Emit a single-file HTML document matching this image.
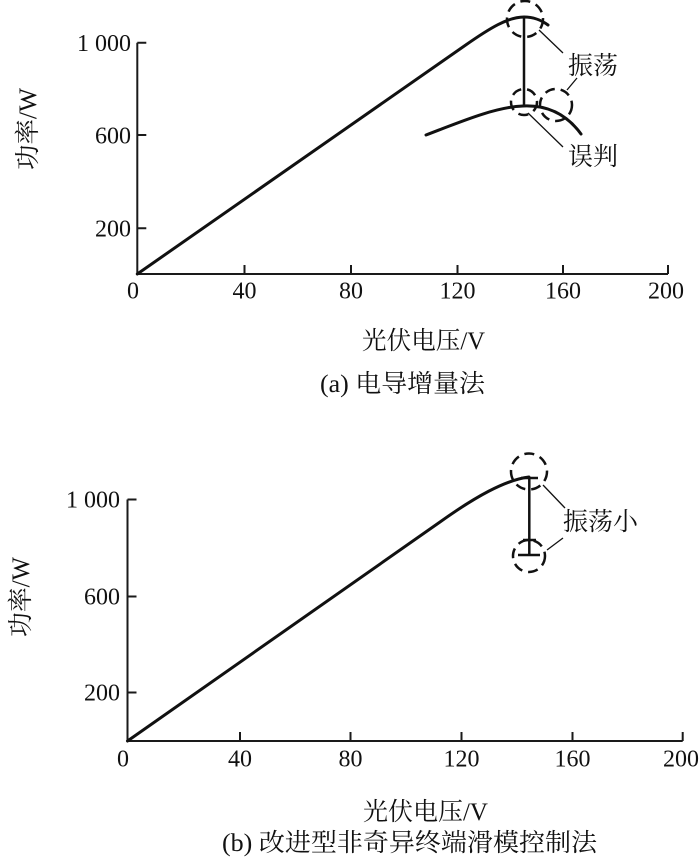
<!DOCTYPE html>
<html>
<head>
<meta charset="utf-8">
<style>
  html, body { margin: 0; padding: 0; background: #fff; }
  svg { display: block; }
  .num { font-family: "Liberation Serif", serif; font-size: 24px; fill: #111; }
  .cjk { font-family: "Liberation Serif", "Noto Serif CJK SC", serif; font-size: 25px; fill: #111; }
</style>
</head>
<body>
<svg width="700" height="862" viewBox="0 0 700 862" xmlns="http://www.w3.org/2000/svg">
  <rect width="700" height="862" fill="#fff"/>

  <!-- ============ TOP CHART (a) ============ -->
  <g stroke="#1a1a1a" fill="none" stroke-width="2">
    <path d="M137.3,42.7 L137.3,274 L668,274"/>
    <path d="M137.3,42.7 h9 M137.3,135 h9 M137.3,228.3 h9"/>
    <path d="M244.5,274 v-9 M351,274 v-9 M457.5,274 v-9 M563,274 v-9 M668,274 v-9"/>
  </g>
  <text class="num" x="131" y="51" text-anchor="end">1 000</text>
  <text class="num" x="131" y="143.5" text-anchor="end">600</text>
  <text class="num" x="131" y="236.5" text-anchor="end">200</text>
  <text class="num" x="133" y="298.5" text-anchor="middle">0</text>
  <text class="num" x="244.5" y="298.5" text-anchor="middle">40</text>
  <text class="num" x="351" y="298.5" text-anchor="middle">80</text>
  <text class="num" x="457.5" y="298.5" text-anchor="middle">120</text>
  <text class="num" x="563" y="298.5" text-anchor="middle">160</text>
  <text class="num" x="666" y="298.5" text-anchor="middle">200</text>

  <text class="cjk" x="36" y="129" text-anchor="middle" transform="rotate(-90 36 129)" textLength="82" lengthAdjust="spacingAndGlyphs">功率/W</text>
  <text class="cjk" x="362" y="349" textLength="123" lengthAdjust="spacingAndGlyphs">光伏电压/V</text>
  <text class="cjk" x="320" y="392" textLength="165" lengthAdjust="spacingAndGlyphs">(a) 电导增量法</text>

  <g stroke="#111" fill="none" stroke-width="3" stroke-linecap="round" stroke-linejoin="round">
    <path d="M137.3,274 L465,45.5 C490,28 508,17 524,17 C534,17 541,20 548,25"/>
    <path d="M426,135 C460,122 495,107 523,106 C545,105 565,112 581,134"/>
  </g>
  <path d="M524,18 L524,107" stroke="#111" stroke-width="2.5" fill="none"/>

  <g stroke="#111" fill="none" stroke-width="2.5" stroke-dasharray="10 6">
    <circle cx="525" cy="19" r="18"/>
    <circle cx="524" cy="102" r="13"/>
    <circle cx="556" cy="105" r="16"/>
  </g>
  <g stroke="#111" stroke-width="1.3" fill="none">
    <path d="M539,30 L563,53"/>
    <path d="M577,78 L567,90"/>
    <path d="M528,113 L563,147"/>
  </g>
  <text class="cjk" x="568" y="74" textLength="50" lengthAdjust="spacingAndGlyphs">振荡</text>
  <text class="cjk" x="568" y="165" textLength="50" lengthAdjust="spacingAndGlyphs">误判</text>

  <!-- ============ BOTTOM CHART (b) ============ -->
  <g stroke="#1a1a1a" fill="none" stroke-width="2">
    <path d="M127.5,499.5 L127.5,741 L682.7,741"/>
    <path d="M127.5,499.5 h9 M127.5,596.5 h9 M127.5,692.5 h9"/>
    <path d="M240,741 v-9 M350.5,741 v-9 M461.5,741 v-9 M572.5,741 v-9 M682.7,741 v-9"/>
  </g>
  <text class="num" x="120" y="507.5" text-anchor="end">1 000</text>
  <text class="num" x="120" y="604.5" text-anchor="end">600</text>
  <text class="num" x="120" y="700.5" text-anchor="end">200</text>

  <text class="num" x="123" y="766.5" text-anchor="middle">0</text>
  <text class="num" x="240" y="766.5" text-anchor="middle">40</text>
  <text class="num" x="350.5" y="766.5" text-anchor="middle">80</text>
  <text class="num" x="461.5" y="766.5" text-anchor="middle">120</text>
  <text class="num" x="572.5" y="766.5" text-anchor="middle">160</text>
  <text class="num" x="681" y="766.5" text-anchor="middle">200</text>

  <text class="cjk" x="29" y="597" text-anchor="middle" transform="rotate(-90 29 597)" textLength="80" lengthAdjust="spacingAndGlyphs">功率/W</text>
  <text class="cjk" x="363" y="820" textLength="125" lengthAdjust="spacingAndGlyphs">光伏电压/V</text>
  <text class="cjk" x="222" y="851" textLength="375" lengthAdjust="spacingAndGlyphs">(b) 改进型非奇异终端滑模控制法</text>

  <path d="M127.5,741 L440,522 C475,497 505,480 529,477" stroke="#111" stroke-width="3" fill="none" stroke-linecap="round" stroke-linejoin="round"/>
  <g stroke="#111" stroke-width="2.5" fill="none">
    <path d="M529.3,478 L529.3,555"/>
    <path d="M521,478 H538"/>
    <path d="M523,540 H536"/>
    <path d="M518,555 H540"/>
  </g>
  <g stroke="#111" fill="none" stroke-width="2.5" stroke-dasharray="10 6">
    <circle cx="529" cy="471.5" r="18"/>
    <circle cx="529" cy="556" r="16"/>
  </g>
  <g stroke="#111" stroke-width="1.3" fill="none">
    <path d="M543,485 L565,508"/>
    <path d="M547,550 L563,538"/>
  </g>
  <text class="cjk" x="563" y="530" textLength="75" lengthAdjust="spacingAndGlyphs">振荡小</text>
</svg>
</body>
</html>
